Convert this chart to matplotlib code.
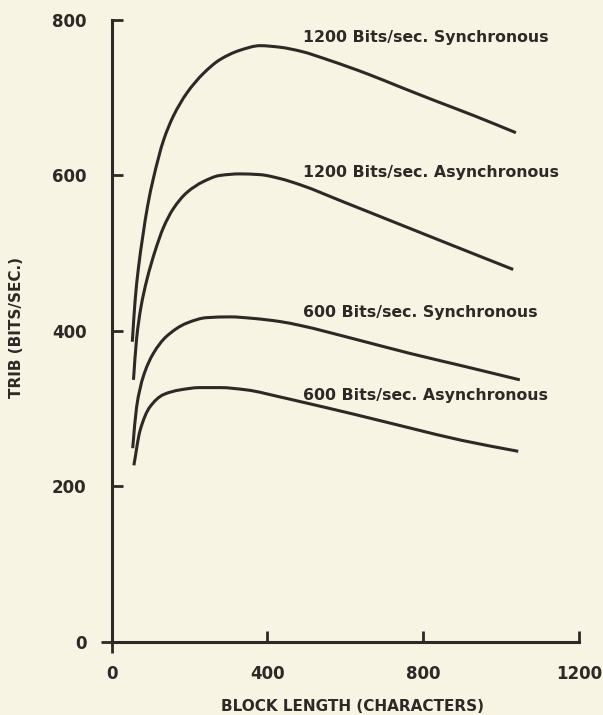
import matplotlib
matplotlib.use("Agg")
import matplotlib.pyplot as plt
from matplotlib.path import Path
from matplotlib.patches import PathPatch
import numpy as np

# ---- data ----
x_1200_sync = [53, 60, 68, 80, 92, 107, 133, 158, 193, 235, 278, 329, 381, 432, 484, 560, 655, 740, 826, 930, 1038]
y_1200_sync = [386, 438, 478, 522, 560, 596, 645, 676, 706, 731, 749, 761, 767, 765, 760, 748, 731, 714, 697, 677, 655]

x_1200_async = [56, 64, 75, 90, 111, 133, 158, 193, 235, 278, 329, 381, 432, 484, 600, 740, 880, 1031]
y_1200_async = [337, 390, 430, 465, 502, 533, 557, 578, 592, 600, 602, 601, 596, 588, 565, 537, 509, 479]

x_600_sync = [54, 64, 81, 107, 141, 193, 244, 304, 364, 432, 484, 620, 766, 900, 1048]
y_600_sync = [249, 302, 341, 371, 393, 410, 417, 418, 416, 412, 407, 390, 371, 355, 337]

x_600_async = [57, 73, 98, 133, 175, 227, 278, 347, 432, 484, 620, 766, 900, 1044]
y_600_async = [227, 272, 302, 318, 324, 327, 327, 324, 315, 309, 293, 275, 259, 245]

series_labels = ["1200 Bits/sec. Synchronous", "1200 Bits/sec. Asynchronous",
                 "600 Bits/sec. Synchronous", "600 Bits/sec. Asynchronous"]
label_x = [491, 491, 491, 491]
label_y = [772, 598, 418, 311]

x_ticks = [400, 800, 1200]
y_ticks = [200, 400, 600, 800]
x_ticklabels = ["400", "800", "1200"]
y_ticklabels = ["200", "400", "600", "800"]

x_title = "BLOCK LENGTH (CHARACTERS)"
y_title = "TRIB (BITS/SEC.)"

# ---- style ----
bg = "#f8f4e3"
ink = "#2e2826"
plt.rcParams["font.family"] = ["DejaVu Sans"]


def smooth_path(xs, ys):
    """Monotone cubic Bezier path through the read points (drawing style only)."""
    x = np.asarray(xs, float)
    y = np.asarray(ys, float)
    h = np.diff(x)
    d = np.diff(y) / h
    m = np.zeros_like(y)
    m[0], m[-1] = d[0], d[-1]
    for i in range(1, len(x) - 1):
        if d[i - 1] * d[i] <= 0:
            m[i] = 0.0
        else:
            w1 = 2 * h[i] + h[i - 1]
            w2 = h[i] + 2 * h[i - 1]
            m[i] = (w1 + w2) / (w1 / d[i - 1] + w2 / d[i])
    verts = [(x[0], y[0])]
    codes = [Path.MOVETO]
    for i in range(len(x) - 1):
        verts += [(x[i] + h[i] / 3, y[i] + m[i] * h[i] / 3),
                  (x[i + 1] - h[i] / 3, y[i + 1] - m[i + 1] * h[i] / 3),
                  (x[i + 1], y[i + 1])]
        codes += [Path.CURVE4] * 3
    return Path(verts, codes)


fig = plt.figure(figsize=(6.03, 7.15), dpi=100, facecolor=bg)
ax = fig.add_axes([0.1852, 0.1025, 0.7750, 0.8695], facecolor=bg)

for xs, ys in [(x_1200_sync, y_1200_sync), (x_1200_async, y_1200_async),
               (x_600_sync, y_600_sync), (x_600_async, y_600_async)]:
    ax.add_patch(PathPatch(smooth_path(xs, ys), facecolor="none", edgecolor=ink,
                           lw=2.2, joinstyle="round", capstyle="butt"))

for t, lx, ly in zip(series_labels, label_x, label_y):
    ax.text(lx, ly, t, ha="left", va="baseline", fontsize=11.3, fontweight="bold", color=ink)

ax.set_xlim(0, 1200)
ax.set_ylim(0, 800)

for s in ["top", "right"]:
    ax.spines[s].set_visible(False)
for s in ["left", "bottom"]:
    ax.spines[s].set_color(ink)
    ax.spines[s].set_linewidth(2.2)

ax.set_xticks(x_ticks)
ax.set_xticklabels(x_ticklabels)
ax.set_yticks(y_ticks)
ax.set_yticklabels(y_ticklabels)
ax.set_xticks([0], minor=True)
ax.set_xticklabels(["0"], minor=True)
ax.set_yticks([0], minor=True)
ax.set_yticklabels(["0"], minor=True)

ax.tick_params(which="major", direction="in", length=8, width=2.0, color=ink,
               labelsize=12, labelcolor=ink)
ax.tick_params(axis="x", which="major", pad=17)
ax.tick_params(axis="y", which="major", pad=18)
ax.tick_params(which="minor", direction="out", length=8, width=2.0, color=ink,
               labelsize=12, labelcolor=ink)
ax.tick_params(axis="x", which="minor", pad=9)
ax.tick_params(axis="y", which="minor", pad=10)

for lab in ax.get_xticklabels() + ax.get_yticklabels() + \
        ax.get_xticklabels(minor=True) + ax.get_yticklabels(minor=True):
    lab.set_fontweight("bold")

ax.set_xlabel(x_title, fontsize=11, fontweight="bold", color=ink)
ax.set_ylabel(y_title, fontsize=11, fontweight="bold", color=ink)
ax.xaxis.set_label_coords(0.516, -0.105)
ax.xaxis.label.set_va("center")
ax.yaxis.set_label_coords(-0.203, 0.505)
ax.yaxis.label.set_va("center")

fig.savefig("out.png", dpi=100, facecolor=bg)
